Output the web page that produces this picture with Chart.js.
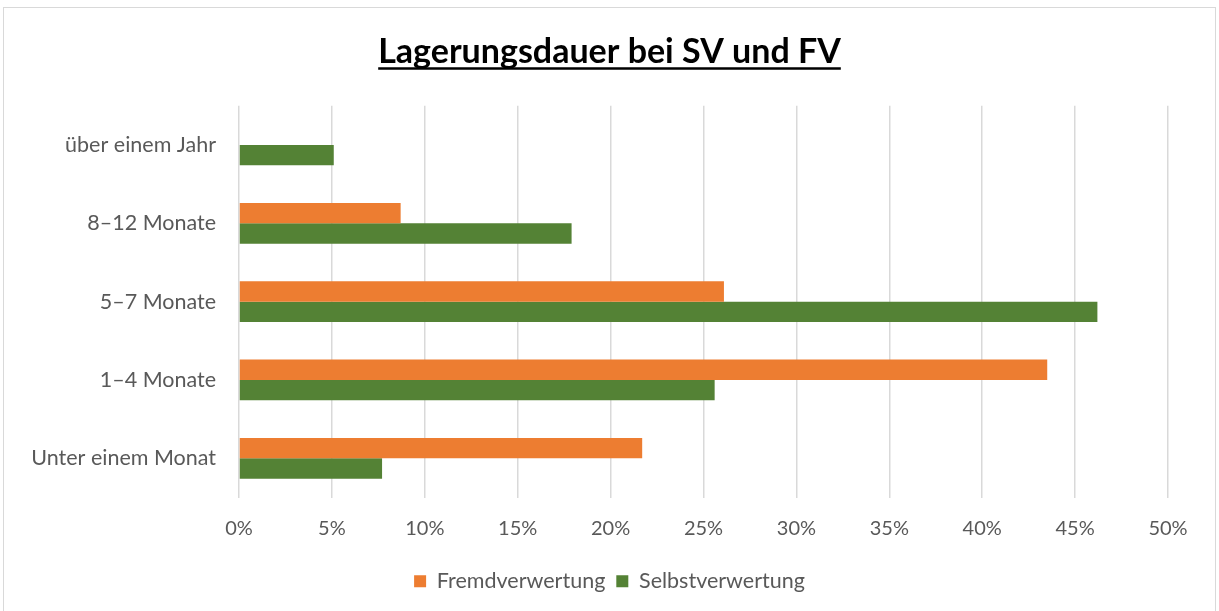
<!DOCTYPE html>
<html lang="de">
<head>
    <meta charset="UTF-8">
    <title>Lagerungsdauer bei SV und FV</title>
    <style>
        * { margin: 0; padding: 0; box-sizing: border-box; }
        body { background: #fff; width: 1219px; height: 611px; overflow: hidden; font-family: Lato, 'Open Sans', sans-serif; }
        .frame { position: absolute; left: 3px; top: 7px; width: 1213px; height: 640px; border: 1px solid #d9d9d9; pointer-events: none; }
        .wrap { position: absolute; left: 0; top: 0; width: 1219px; height: 611px; }
    </style>
</head>
<body>
    <div class="wrap"><canvas id="chart"></canvas></div>
    <div class="frame"></div>

    <script src="https://cdn.jsdelivr.net/npm/chart.js"></script>
    <script>
        // Werte (Prozent)
        const categories = ['über einem Jahr', '8–12 Monate', '5–7 Monate', '1–4 Monate', 'Unter einem Monat'];
        const fremdverwertung = [0, 8.7, 26.1, 43.5, 21.7];
        const selbstverwertung = [5.1, 17.9, 46.2, 25.6, 7.7];
        const seriesNames = ['Fremdverwertung', 'Selbstverwertung'];
        const xTicks = [0, 5, 10, 15, 20, 25, 30, 35, 40, 45, 50];

        const gray = '#595959';
        const font = 'Lato, "Open Sans", sans-serif';
        const titleSize = 34;

        // Unterstreichung für den Titel
        const underlineTitle = {
            id: 'underlineTitle',
            afterDraw(chart) {
                const t = chart.titleBlock;
                if (!t) return;
                const ctx = chart.ctx;
                ctx.save();
                ctx.font = 'bold ' + titleSize + 'px ' + font;
                const w = ctx.measureText(t.options.text).width;
                const cx = (t.left + t.right) / 2;
                const y = t.top + t.options.padding.top + titleSize * 0.6 + 16;
                ctx.strokeStyle = '#000';
                ctx.lineWidth = 2.5;
                ctx.beginPath();
                ctx.moveTo(cx - w / 2, y);
                ctx.lineTo(cx + w / 2, y);
                ctx.stroke();
                ctx.restore();
            }
        };

        new Chart(document.getElementById('chart'), {
            type: 'bar',
            data: {
                labels: categories,
                datasets: [
                    { label: seriesNames[0], data: fremdverwertung, backgroundColor: '#ED7D31' },
                    { label: seriesNames[1], data: selbstverwertung, backgroundColor: '#548235' }
                ]
            },
            options: {
                indexAxis: 'y',
                responsive: true,
                maintainAspectRatio: false,
                animation: false,
                categoryPercentage: 0.52,
                barPercentage: 1,
                layout: { padding: { left: 0, right: 0, bottom: 9 } },
                scales: {
                    x: {
                        min: 0, max: 50,
                        afterBuildTicks(scale) { scale.ticks = xTicks.map(v => ({ value: v })); },
                        afterFit(scale) { scale.paddingRight = 51; },
                        ticks: { color: gray, font: { family: font, size: 20 }, padding: 19, callback: v => v + '%' },
                        grid: { color: '#d9d9d9', lineWidth: 1.5, drawTicks: false },
                        border: { display: false }
                    },
                    y: {
                        afterFit(scale) { scale.width = 239; },
                        ticks: { color: gray, font: { family: font, size: 21.5 }, padding: 15 },
                        grid: { display: false },
                        border: { display: false }
                    }
                },
                plugins: {
                    title: {
                        display: true,
                        text: 'Lagerungsdauer bei SV und FV',
                        color: '#000',
                        font: { family: font, size: titleSize, weight: 'bold' },
                        padding: { top: 32, bottom: 33 }
                    },
                    legend: {
                        position: 'bottom',
                        labels: { color: gray, font: { family: font, size: 21.5 }, boxWidth: 12, boxHeight: 12, padding: 11 }
                    },
                    tooltip: { enabled: false }
                }
            },
            plugins: [underlineTitle]
        });
    </script>
</body>
</html>
